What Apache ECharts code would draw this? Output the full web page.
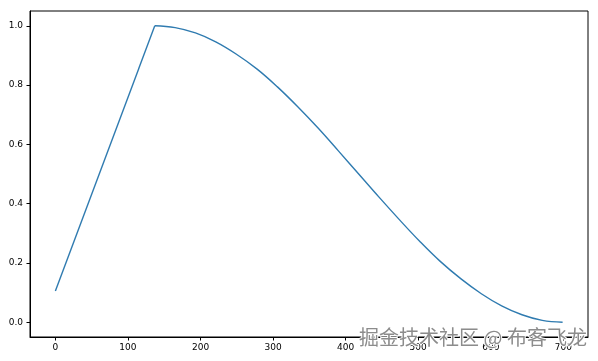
<!DOCTYPE html>
<html>
<head>
<meta charset="utf-8">
<script src="https://cdn.jsdelivr.net/npm/echarts@6/dist/echarts.min.js"></script>
<style>
html,body{margin:0;padding:0;background:#fff;}
#c{width:598px;height:361px;}
</style>
</head>
<body>
<div id="c"></div>
<script>
// Data: linear warmup then cosine decay
var warmSteps = [0, 137];
var warmLr = [0.105, 1.0];
var decaySteps = [137, 165, 193, 221, 249, 278, 306, 334, 362, 390, 418, 446, 474, 502, 530, 559, 587, 615, 643, 671, 699];
var decayLr = [1.0, 0.994, 0.976, 0.946, 0.905, 0.854, 0.794, 0.727, 0.655, 0.578, 0.5, 0.422, 0.346, 0.273, 0.206, 0.146, 0.096, 0.055, 0.025, 0.006, 0.0];
var xTicks = [0, 100, 200, 300, 400, 500, 600, 700];
var yTicks = [0.0, 0.2, 0.4, 0.6, 0.8, 1.0];
var watermark = '掘金技术社区 @ 布客飞龙';

function pairs(xs, ys) { return xs.map(function (s, i) { return [s, ys[i]]; }); }
var chart = echarts.init(document.getElementById('c'), null, {renderer: 'canvas'});
var lab = {color: '#000', fontFamily: 'DejaVu Sans', fontSize: 9};
var ls = {color: '#2f7bb0', width: 1.4};
chart.setOption({
  animation: false,
  grid: {left: 30, right: 10, top: 11, bottom: 24, show: true, borderColor: '#000', borderWidth: 1, backgroundColor: 'transparent'},
  xAxis: {
    type: 'value', min: -35, max: 734,
    axisLine: {show: true, onZero: false, lineStyle: {color: '#000', width: 1}},
    axisTick: {show: true, length: 3.5, lineStyle: {color: '#000'}, customValues: xTicks},
    axisLabel: Object.assign({margin: 6, customValues: xTicks, formatter: function (v) { return String(v); }}, lab),
    splitLine: {show: false}
  },
  yAxis: {
    type: 'value', min: -0.05, max: 1.05,
    axisLine: {show: true, onZero: false, lineStyle: {color: '#000', width: 1}},
    axisTick: {show: true, length: 3.5, lineStyle: {color: '#000'}, customValues: yTicks},
    axisLabel: Object.assign({margin: 7, customValues: yTicks, formatter: function (v) { return v.toFixed(1); }}, lab),
    splitLine: {show: false}
  },
  series: [{
    type: 'line', data: pairs(warmSteps, warmLr), showSymbol: false, smooth: false, lineStyle: ls
  }, {
    type: 'line', data: pairs(decaySteps, decayLr), showSymbol: false, smooth: 0.4, lineStyle: ls
  }],
  graphic: [{
    type: 'text', right: 10, bottom: 13, z: 100,
    style: {text: watermark, fontSize: 20, fontFamily: 'Noto Sans CJK SC', fill: '#8c8c8c', stroke: '#fff', lineWidth: 2}
  }]
});
</script>
</body>
</html>
